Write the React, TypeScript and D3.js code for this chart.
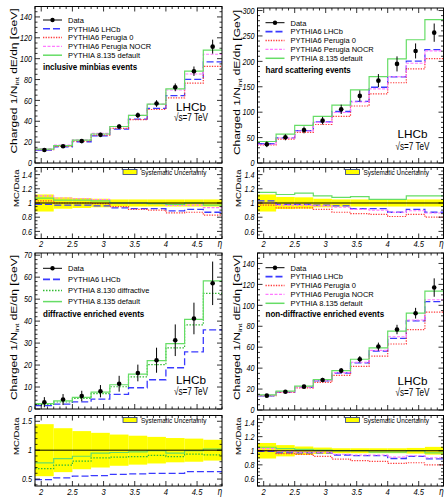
import React from "react";
import * as d3 from "d3";

// eta bins
const binLow = [1.9, 2.2, 2.5, 2.8, 3.1, 3.4, 3.7, 4.0, 4.3, 4.6];
const binWidth = 0.3;
const etaTicks = [2, 2.5, 3, 3.5, 4, 4.5];

// inclusive minbias
const minbiasData = [12.5, 16, 21, 27, 35, 45.7, 57, 72.5, 88, 111.5];
const minbiasErr = [1.5, 1.5, 1.6, 2, 2.2, 2.7, 3.2, 3.7, 4.5, 6.7];
const minbiasSyst = [0.12, 0.08, 0.07, 0.06, 0.05, 0.05, 0.05, 0.05, 0.05, 0.05];
const minbiasLHCb = [0.98, 0.97, 0.97, 0.96, 0.93, 0.92, 0.92, 0.89, 0.91, 0.87];
const minbiasP0 = [1.03, 1.0, 1.0, 0.99, 0.95, 0.91, 0.9, 0.86, 0.87, 0.83];
const minbiasNOCR = [1.1, 1.07, 1.06, 1.05, 1.0, 1.0, 0.99, 0.965, 0.97, 0.935];
const minbiasP8 = [1.07, 1.04, 1.04, 1.03, 1.0, 1.0, 0.99, 0.98, 1.0, 0.97];

// hard scattering
const hardData = [36.8, 50.6, 65, 83.3, 105.6, 132, 162, 195, 220.5, 256.5];
const hardErr = [5.6, 5.9, 6.6, 7.5, 9.2, 10.8, 13, 14.8, 14.8, 18];
const hardSyst = [0.12, 0.085, 0.08, 0.06, 0.05, 0.05, 0.05, 0.05, 0.05, 0.05];
const hardLHCb = [1.03, 0.98, 0.98, 0.97, 0.96, 0.92, 0.92, 0.87, 0.91, 0.87];
const hardP0 = [0.97, 0.93, 0.93, 0.91, 0.87, 0.85, 0.84, 0.81, 0.84, 0.8];
const hardNOCR = [1.0, 0.97, 0.97, 0.96, 0.94, 0.91, 0.9, 0.87, 0.89, 0.86];
const hardP8 = [1.15, 1.12, 1.14, 1.1, 1.08, 1.09, 1.05, 1.05, 1.1, 1.1];

// diffractive enriched
const diffData = [3.1, 4.3, 5.9, 8.1, 11.5, 16.4, 22.2, 31.3, 41.2, 57.2];
const diffErr = [2.3, 2.5, 2.4, 2.8, 3.6, 3.8, 5.7, 7.2, 7.2, 9.9];
const diffSyst = [0.45, 0.38, 0.33, 0.3, 0.27, 0.25, 0.23, 0.21, 0.2, 0.18];
const diffLHCb = [0.49, 0.52, 0.55, 0.56, 0.58, 0.59, 0.6, 0.6, 0.63, 0.63];
const diffP8130 = [0.68, 0.74, 0.81, 0.865, 0.88, 0.89, 0.91, 0.89, 0.93, 0.92];
const diffP8135 = [0.78, 0.855, 0.895, 0.95, 0.96, 0.97, 0.99, 0.95, 0.99, 1.02];

// non-diffractive enriched
const nondiffData = [13.7, 17.5, 22.3, 28.7, 37.6, 48.5, 60.6, 76.9, 92.5, 117];
const nondiffErr = [1.5, 1.5, 1.8, 2, 2.5, 3, 3.8, 4.5, 5.1, 8.8];
const nondiffSyst = [0.11, 0.08, 0.06, 0.045, 0.035, 0.035, 0.035, 0.035, 0.04, 0.055];
const nondiffLHCb = [0.99, 0.97, 0.97, 0.97, 0.94, 0.93, 0.93, 0.89, 0.92, 0.885];
const nondiffP0 = [1.0, 0.96, 0.95, 0.92, 0.88, 0.86, 0.85, 0.82, 0.83, 0.8];
const nondiffNOCR = [1.03, 0.99, 0.98, 0.98, 0.95, 0.94, 0.94, 0.91, 0.93, 0.9];
const nondiffP8 = [1.05, 1.03, 1.02, 1.01, 1.0, 1.0, 0.98, 0.98, 1.0, 0.97];

const FONT = "'Liberation Sans', Arial, Helvetica, sans-serif";
const SX = 0.8; // the original figure is squeezed horizontally

const STY = {
  lhcb: { color: "#3a3aff", dash: "7,3", width: 1.3, label: "PYTHIA6 LHCb" },
  p0: { color: "#ff3b3b", dash: "1.3,1.3", width: 1.2, label: "PYTHIA6 Perugia 0" },
  nocr: { color: "#ff7aff", dash: "3,1.5", width: 1.1, label: "PYTHIA6 Perugia NOCR" },
  p8: { color: "#66dd66", dash: null, width: 1.2, label: "PYTHIA 8.135 default" },
  p8130: { color: "#33bb33", dash: "1.5,1.5", width: 1.2, label: "PYTHIA 8.130 diffractive" },
};

const Txt = ({ x, y, size, anchor = "start", weight = "normal", italic = false, len, sx = SX, children }: any) =>
  len ? (
    <text x={x} y={y} fontSize={size} textAnchor={anchor} fontWeight={weight}
      textLength={len} lengthAdjust="spacingAndGlyphs">{children}</text>
  ) : (
    <text transform={`translate(${x},${y}) scale(${sx},1)`} fontSize={size} textAnchor={anchor}
      fontWeight={weight} fontStyle={italic ? "italic" : "normal"}>{children}</text>
  );

const panels = [
  {
    x0: 35, x1: 222, mainTop: 6.5, mainBot: 163, ratioTop: 167.5, ratioBot: 238.5,
    yMax: 150, yMajor: 20, yMinor: 5, rMin: 0.5, rMax: 1.5, rMajor: [0.6, 0.8, 1, 1.2, 1.4], rMinor: 0.05,
    data: minbiasData, err: minbiasErr, syst: minbiasSyst,
    series: [[STY.lhcb, minbiasLHCb], [STY.p0, minbiasP0], [STY.nocr, minbiasNOCR], [STY.p8, minbiasP8]],
    title: "inclusive minbias events", legTop: 20, legStep: 8.8, titleY: 66.7, lhcbY: 110.5, sqrtY: 121,
  },
  {
    x0: 257.5, x1: 443.5, mainTop: 8, mainBot: 163, ratioTop: 167.5, ratioBot: 238.5,
    yMax: 305, yMajor: 50, yMinor: 10, rMin: 0.5, rMax: 1.5, rMajor: [0.6, 0.8, 1, 1.2, 1.4], rMinor: 0.05,
    data: hardData, err: hardErr, syst: hardSyst,
    series: [[STY.lhcb, hardLHCb], [STY.p0, hardP0], [STY.nocr, hardNOCR], [STY.p8, hardP8]],
    title: "hard scattering events", legTop: 22.7, legStep: 8.9, titleY: 70, lhcbY: 137.5, sqrtY: 150,
  },
  {
    x0: 35, x1: 222, mainTop: 253, mainBot: 409, ratioTop: 415.5, ratioBot: 486,
    yMax: 71, yMajor: 10, yMinor: 2, rMin: 0.38, rMax: 1.6, rMajor: [0.5, 1, 1.5], rMinor: 0.1,
    data: diffData, err: diffErr, syst: diffSyst,
    series: [[STY.lhcb, diffLHCb], [STY.p8130, diffP8130], [STY.p8, diffP8135]],
    title: "diffractive enriched events", legTop: 268.3, legStep: 11.1, titleY: 314.3, lhcbY: 384, sqrtY: 395,
  },
  {
    x0: 257.5, x1: 443.5, mainTop: 253, mainBot: 410, ratioTop: 415.5, ratioBot: 486,
    yMax: 150, yMajor: 20, yMinor: 5, rMin: 0.5, rMax: 1.5, rMajor: [0.6, 0.8, 1, 1.2, 1.4], rMinor: 0.05,
    data: nondiffData, err: nondiffErr, syst: nondiffSyst,
    series: [[STY.lhcb, nondiffLHCb], [STY.p0, nondiffP0], [STY.nocr, nondiffNOCR], [STY.p8, nondiffP8]],
    title: "non-diffractive enriched events", legTop: 267.7, legStep: 8.9, titleY: 314.3, lhcbY: 385, sqrtY: 395.5,
  },
];

const fmt = (v: number) => String(+v.toFixed(2));

function Ticks({ x, y, xMinor, yMajor, yMinor, top, bot, left, right }: any) {
  const segs: string[] = [];
  xMinor.forEach((v: number) => {
    const big = etaTicks.some((t) => Math.abs(t - v) < 1e-6);
    const l = big ? 5 : 2.5;
    const px = x(v);
    segs.push(`M${px},${bot}v${-l}M${px},${top}v${l}`);
  });
  yMinor.forEach((v: number) => {
    const big = yMajor.some((t: number) => Math.abs(t - v) < 1e-6);
    const l = big ? 5 : 2.5;
    const py = y(v);
    segs.push(`M${left},${py}h${l}M${right},${py}h${-l}`);
  });
  return <path d={segs.join("")} stroke="#000" strokeWidth={0.8} fill="none" />;
}

function Panel({ p, id }: any) {
  const x = d3.scaleLinear().domain([1.9, 4.9]).range([p.x0, p.x1]);
  const y = d3.scaleLinear().domain([0, p.yMax]).range([p.mainBot, p.mainTop]);
  const r = d3.scaleLinear().domain([p.rMin, p.rMax]).range([p.ratioBot, p.ratioTop]);
  const line = d3.line();
  const step = (vals: number[], sc: any) =>
    line(binLow.flatMap((lo, i) => [[x(lo), sc(vals[i])], [x(lo + binWidth), sc(vals[i])]] as [number, number][]));
  const xMinor = d3.range(19, 50).map((v) => v / 10);
  const yMajor = d3.range(0, p.yMax + 1e-9, p.yMajor);
  const yMinor = d3.range(0, p.yMax + 1e-9, p.yMinor);
  const rMinor = d3.range(Math.ceil(p.rMin / p.rMinor - 1e-9), Math.floor(p.rMax / p.rMinor + 1e-9) + 1).map((k) => +(k * p.rMinor).toFixed(3));
  const centers = binLow.map((lo) => lo + binWidth / 2);
  const W = p.x1 - p.x0;
  const legX = p.x0 + 8;
  const entries = [{ data: true, label: "Data" }, ...p.series.map(([s]: any) => ({ s, label: s.label }))];

  return (
    <g>
      <defs>
        <clipPath id={`cm${id}`}><rect x={p.x0} y={p.mainTop} width={W} height={p.mainBot - p.mainTop} /></clipPath>
        <clipPath id={`cr${id}`}><rect x={p.x0} y={p.ratioTop} width={W} height={p.ratioBot - p.ratioTop} /></clipPath>
      </defs>

      {/* main pad */}
      <g clipPath={`url(#cm${id})`}>
        {p.series.map(([s, rat]: any, i: number) => (
          <path key={i} d={step(p.data.map((d: number, k: number) => d * rat[k]), y) as string}
            fill="none" stroke={s.color} strokeWidth={s.width} strokeDasharray={s.dash || undefined} />
        ))}
        {centers.map((c, i) => (
          <g key={i}>
            <line x1={x(c)} x2={x(c)} y1={y(p.data[i] - p.err[i])} y2={y(p.data[i] + p.err[i])} stroke="#000" strokeWidth={1} />
            <circle cx={x(c)} cy={y(p.data[i])} r={2.3} fill="#000" />
          </g>
        ))}
      </g>
      <rect x={p.x0} y={p.mainTop} width={W} height={p.mainBot - p.mainTop} fill="none" stroke="#000" strokeWidth={1} />
      <Ticks x={x} y={y} xMinor={xMinor} yMajor={yMajor} yMinor={yMinor}
        top={p.mainTop} bot={p.mainBot} left={p.x0} right={p.x1} />
      {yMajor.map((v: number) => (
        <Txt key={v} x={p.x0 - 3} y={y(v) + 3.2} size={9} anchor="end" italic>{fmt(v)}</Txt>
      ))}
      <text transform={`translate(${p.x0 - 18},${p.mainTop + 2}) scale(0.75,1) rotate(-90)`} fontSize={12} textAnchor="end">
        Charged 1/N<tspan fontSize={8} dy={3}>int</tspan><tspan dy={-3}> dE/dη [GeV]</tspan>
      </text>

      {/* legend */}
      {entries.map((e: any, i: number) => {
        const cy = p.legTop + i * p.legStep;
        return (
          <g key={i}>
            {e.data ? (
              <g>
                <line x1={legX} x2={legX + 19} y1={cy} y2={cy} stroke="#000" strokeWidth={1} />
                <circle cx={legX + 9.5} cy={cy} r={2.2} fill="#000" />
              </g>
            ) : (
              <line x1={legX} x2={legX + 19} y1={cy} y2={cy} stroke={e.s.color} strokeWidth={e.s.width + 0.3}
                strokeDasharray={e.s.dash || undefined} />
            )}
            <Txt x={legX + 25} y={cy + 2.8} size={7.9} sx={0.95}>{e.label}</Txt>
          </g>
        );
      })}
      <Txt x={legX} y={p.titleY + 3.1} size={9} sx={0.89} weight="bold">{p.title}</Txt>
      <Txt x={p.x1 - 31} y={p.lhcbY} size={11.5} anchor="middle" len={30}>LHCb</Txt>
      <Txt x={p.x1 - 31} y={p.sqrtY} size={11} anchor="middle" len={34}>√s=7 TeV</Txt>

      {/* ratio pad */}
      <g clipPath={`url(#cr${id})`}>
        {binLow.map((lo, i) => (
          <rect key={i} x={x(lo)} width={x(lo + binWidth) - x(lo)} y={r(1 + p.syst[i])}
            height={r(1 - p.syst[i]) - r(1 + p.syst[i])} fill="#ffff00" />
        ))}
        {p.series.map(([s, rat]: any, i: number) => (
          <path key={i} d={step(rat, r) as string} fill="none" stroke={s.color} strokeWidth={s.width}
            strokeDasharray={s.dash || undefined} />
        ))}
        <line x1={p.x0} x2={p.x1} y1={r(1)} y2={r(1)} stroke="#000" strokeWidth={1} />
      </g>
      <rect x={p.x0} y={p.ratioTop} width={W} height={p.ratioBot - p.ratioTop} fill="none" stroke="#000" strokeWidth={1} />
      <Ticks x={x} y={r} xMinor={xMinor} yMajor={p.rMajor} yMinor={rMinor}
        top={p.ratioTop} bot={p.ratioBot} left={p.x0} right={p.x1} />
      {p.rMajor.map((v: number) => (
        <Txt key={v} x={p.x0 - 3} y={r(v) + 3.2} size={9} anchor="end" italic>{fmt(v)}</Txt>
      ))}
      {etaTicks.map((v) => (
        <Txt key={v} x={x(v)} y={p.ratioBot + 8.5} size={9.5} anchor="middle" italic>{fmt(v)}</Txt>
      ))}
      <Txt x={p.x1 - 2} y={p.ratioBot + 8.5} size={10} anchor="middle" italic>η</Txt>
      <text transform={`translate(${p.x0 - 16.5},${p.ratioTop + 2}) scale(0.75,1) rotate(-90)`} fontSize={9.5} textAnchor="end">
        MC/Data
      </text>
      <rect x={p.x0 + 88} y={p.ratioTop + 2} width={14} height={5} fill="#ffff00" stroke="#2a3a8a" strokeWidth={0.8} />
      <Txt x={p.x0 + 106} y={p.ratioTop + 7} size={8}>Systematic Uncertainty</Txt>
    </g>
  );
}

export default function App() {
  return (
    <svg width={444} height={497} fontFamily={FONT}
      style={{ position: "absolute", left: 0, top: 0, background: "#fff" }}>
      <rect width={444} height={497} fill="#fff" />
      {panels.map((p, i) => <Panel key={i} p={p} id={i} />)}
    </svg>
  );
}
